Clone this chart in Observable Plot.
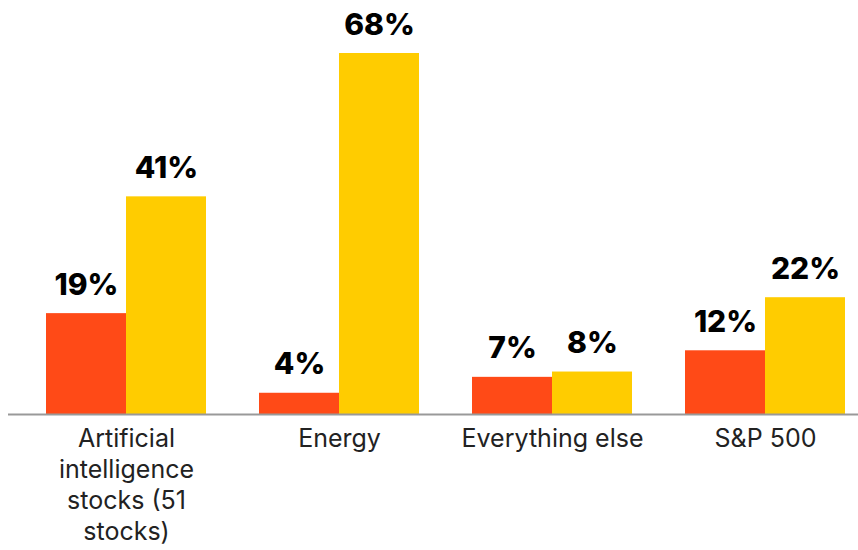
<!DOCTYPE html>
<html>
<head>
<meta charset="utf-8">
<script src="https://cdn.jsdelivr.net/npm/d3@7"></script>
<script src="https://cdn.jsdelivr.net/npm/@observablehq/plot@0.6"></script>
<style>
  html, body { margin: 0; padding: 0; background: #fff; }
  #chart svg { display: block; }
</style>
</head>
<body>
<div id="chart"></div>
<script>
const categories = ["Artificial intelligence stocks (51 stocks)", "Energy", "Everything else", "S&P 500"];
const categoryLabels = ["Artificial\nintelligence\nstocks (51\nstocks)", "Energy", "Everything else", "S&P 500"];
const seriesNames = ["Series 1", "Series 2"];
const series1 = [19, 4, 7, 12];
const series2 = [41, 68, 8, 22];
const colors = ["#ff4a17", "#ffcc00"];

const rows1 = categories.map((c, i) => ({category: c, series: seriesNames[0], value: series1[i]}));
const rows2 = categories.map((c, i) => ({category: c, series: seriesNames[1], value: series2[i]}));
const labelOf = new Map(categories.map((c, i) => [c, categoryLabels[i]]));

const W = 858, H = 550;
const bandHalf = 80;

const chart = Plot.plot({
  width: W,
  height: H,
  marginLeft: 8,
  marginRight: 0,
  marginTop: 53,
  marginBottom: 136,
  style: {fontFamily: "Inter, 'Noto Sans', sans-serif", background: "#fff"},
  x: {domain: categories, paddingInner: 0.25, paddingOuter: 0.117, align: 0.74},
  y: {domain: [0, 68], axis: null},
  color: {domain: seriesNames, range: colors},
  marks: [
    Plot.barY(rows1, {x: "category", y: "value", fill: "series", insetRight: bandHalf}),
    Plot.barY(rows2, {x: "category", y: "value", fill: "series", insetLeft: bandHalf}),
    Plot.ruleY([0], {stroke: "#999", strokeWidth: 2}),
    Plot.text(rows1, {x: "category", y: "value", text: d => d.value + "%", dx: -bandHalf / 2, dy: -19, lineAnchor: "bottom", fontSize: 30, fontWeight: 800, fill: "#000"}),
    Plot.text(rows2, {x: "category", y: "value", text: d => d.value + "%", dx: bandHalf / 2, dy: -19, lineAnchor: "bottom", fontSize: 30, fontWeight: 800, fill: "#000"}),
    Plot.axisX({tickSize: 0, tickPadding: 10, fontSize: 25, lineHeight: 1.24, fill: "#222", tickFormat: d => labelOf.get(d), label: null})
  ]
});
document.getElementById("chart").appendChild(chart);
</script>
</body>
</html>
